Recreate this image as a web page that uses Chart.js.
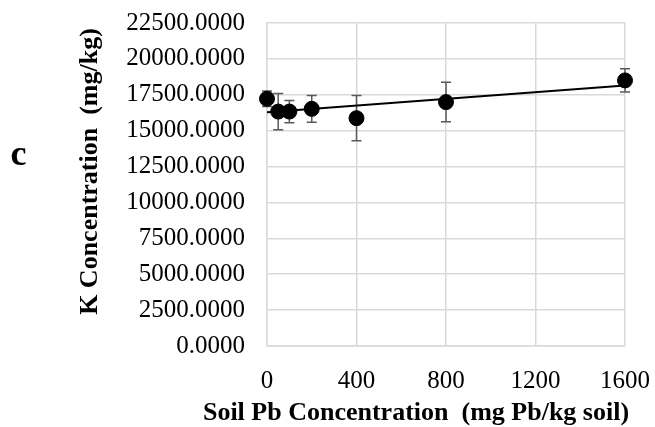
<!DOCTYPE html>
<html>
<head>
<meta charset="utf-8">
<style>
  html, body { margin: 0; padding: 0; background: #ffffff; }
  canvas { display: block; }
</style>
<script src="https://cdn.jsdelivr.net/npm/chart.js@4"></script>
</head>
<body>
<canvas id="c" width="655" height="427"></canvas>
<script>
// Data
const pbLevels = [0, 50, 100, 200, 400, 800, 1600];          // Soil Pb (mg Pb/kg soil)
const kConc    = [17220, 16330, 16330, 16520, 15870, 16990, 18500]; // K (mg/kg)
const kError   = [540, 1260, 780, 930, 1575, 1375, 815];      // error bar half-length
const trendX   = [0, 1600];
const trendY   = [16290, 18150];
const xTicks   = [0, 400, 800, 1200, 1600];
const yTicks   = [0, 2500, 5000, 7500, 10000, 12500, 15000, 17500, 20000, 22500];

const serif = "'Times New Roman', 'Liberation Serif', serif";

const errorBars = {
  id: 'errorBars',
  beforeDatasetsDraw(chart) {
    const ctx = chart.ctx, xs = chart.scales.x, ys = chart.scales.y;
    ctx.save();
    ctx.strokeStyle = '#595959';
    ctx.lineWidth = 1.5;
    pbLevels.forEach((p, i) => {
      const px = xs.getPixelForValue(p);
      const top = ys.getPixelForValue(kConc[i] + kError[i]);
      const bot = ys.getPixelForValue(kConc[i] - kError[i]);
      ctx.beginPath();
      ctx.moveTo(px, top); ctx.lineTo(px, bot);
      ctx.moveTo(px - 5, top); ctx.lineTo(px + 5, top);
      ctx.moveTo(px - 5, bot); ctx.lineTo(px + 5, bot);
      ctx.stroke();
    });
    ctx.restore();
  }
};

const titles = {
  id: 'titles',
  afterDraw(chart) {
    const ctx = chart.ctx;
    ctx.save();
    ctx.fillStyle = '#000000';
    ctx.textAlign = 'center';
    ctx.textBaseline = 'alphabetic';
    ctx.font = 'bold 26px ' + serif;
    ctx.fillText('Soil Pb Concentration  (mg Pb/kg soil)', 416, 420);
    ctx.save();
    ctx.translate(97, 171.5);
    ctx.rotate(-Math.PI / 2);
    ctx.fillText('K Concentration  (mg/kg)', 0, 0);
    ctx.restore();
    ctx.font = 'bold 36px ' + serif;
    ctx.fillText('c', 18.5, 165);
    ctx.restore();
  }
};

function noPad(s) { s.paddingLeft = 0; s.paddingRight = 0; s.paddingTop = 0; s.paddingBottom = 0; }

new Chart(document.getElementById('c'), {
  type: 'scatter',
  data: {
    datasets: [
      {
        type: 'line',
        data: trendX.map((x, i) => ({ x: x, y: trendY[i] })),
        borderColor: '#000000',
        borderWidth: 2,
        pointRadius: 0,
        fill: false,
        clip: false,
        order: 1
      },
      {
        data: pbLevels.map((x, i) => ({ x: x, y: kConc[i] })),
        backgroundColor: '#000000',
        borderColor: '#000000',
        pointRadius: 7.5,
        pointHoverRadius: 7.5,
        clip: false,
        order: 0
      }
    ]
  },
  options: {
    responsive: false,
    animation: false,
    devicePixelRatio: 1,
    layout: { padding: { left: 0, right: 30, top: 23, bottom: 0 } },
    plugins: { legend: { display: false }, tooltip: { enabled: false } },
    scales: {
      x: {
        type: 'linear',
        min: 0, max: 1600,
        afterFit(s) { s.height = 81; noPad(s); },
        afterBuildTicks(s) { s.ticks = xTicks.map(v => ({ value: v })); },
        grid: { color: '#d9d9d9', lineWidth: 1.5, drawTicks: false },
        border: { color: '#d9d9d9', width: 1.5 },
        ticks: {
          color: '#000000', font: { family: serif, size: 25 }, padding: 20, maxRotation: 0,
          callback: v => String(v)
        }
      },
      y: {
        type: 'linear',
        min: 0, max: 22500,
        afterFit(s) { s.width = 267; noPad(s); },
        afterBuildTicks(s) { s.ticks = yTicks.map(v => ({ value: v })); },
        grid: { color: '#d9d9d9', lineWidth: 1.5, drawTicks: false },
        border: { color: '#d9d9d9', width: 1.5 },
        ticks: {
          color: '#000000', font: { family: serif, size: 25 }, padding: 22,
          callback: v => Number(v).toFixed(4)
        }
      }
    }
  },
  plugins: [errorBars, titles]
});
</script>
</body>
</html>
